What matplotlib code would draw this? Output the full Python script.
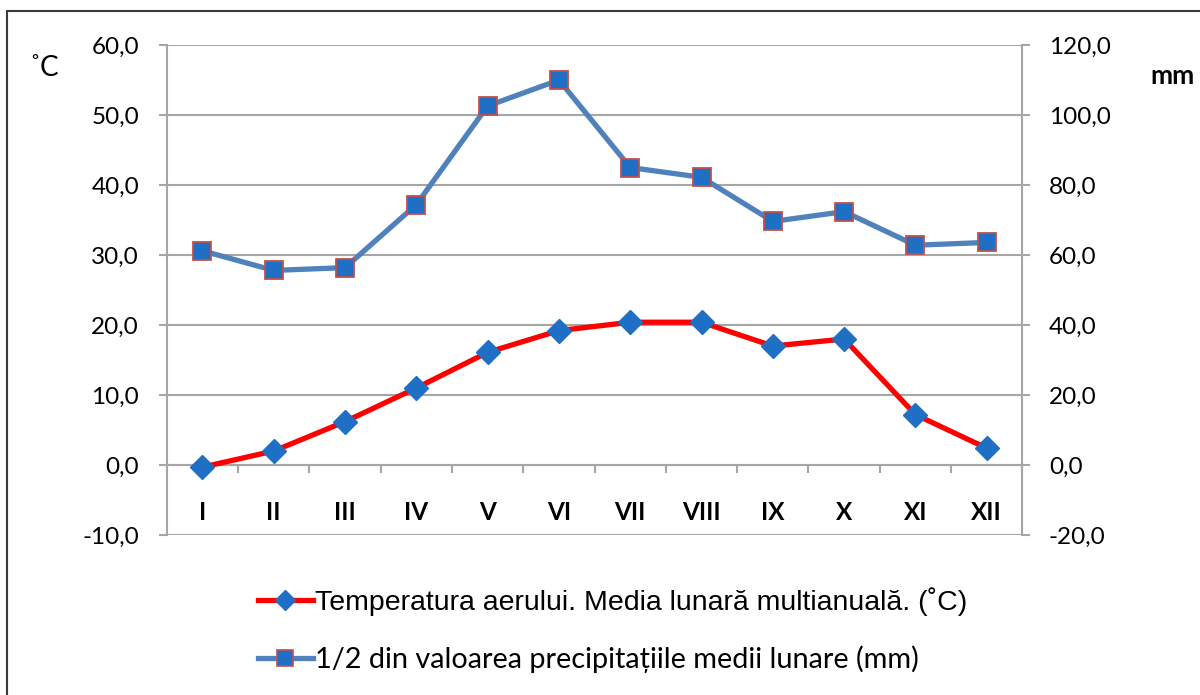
import matplotlib.pyplot as plt
import numpy as np
from matplotlib.patches import Rectangle
from matplotlib.lines import Line2D

# data
months = ['I', 'II', 'III', 'IV', 'V', 'VI', 'VII', 'VIII', 'IX', 'X', 'XI', 'XII']
temp = [-0.3, 2.0, 6.2, 11.0, 16.1, 19.2, 20.4, 20.4, 17.0, 18.0, 7.2, 2.4]
prec_half = [30.6, 27.8, 28.2, 37.2, 51.3, 55.0, 42.5, 41.1, 34.8, 36.2, 31.4, 31.8]
left_ticks = [-10, 0, 10, 20, 30, 40, 50, 60]
right_ticks = [-20, 0, 20, 40, 60, 80, 100, 120]

lbl_temp = 'Temperatura aerului. Media lunară multianuală. (˚C)'
lbl_prec = '1/2 din valoarea precipitațiile medii lunare (mm)'

grid_col = '#a6a6a6'
red = '#ff0000'
blue_line = '#4f81bd'
blue_mark = '#1f6fc4'
edge_red = '#c0504d'

fig = plt.figure(figsize=(12, 6.95), dpi=100)
ax = fig.add_axes([0.139, 0.2302, 0.713, 0.705])

# outer chart frame (cut off at right/bottom in the reference)
fig.patches.append(Rectangle((7/1200, -0.05), 1.1, 1 - 11/695 + 0.05,
                             transform=fig.transFigure, fill=False,
                             edgecolor='#3a3a3a', linewidth=1.5))

x = np.arange(len(months))
ax.plot(x, prec_half, color=blue_line, lw=3.8, marker='s', ms=13,
        mfc=blue_mark, mec=edge_red, mew=1.3, zorder=3)
ax.plot(x, temp, color=red, lw=3.8, marker='D', ms=12,
        mfc=blue_mark, mec=blue_mark, zorder=4)

ax.set_xlim(-0.5, len(months) - 0.5)
ax.set_ylim(-10, 60)
ax.set_yticks(left_ticks)
ax.set_yticklabels([f'{v:.1f}'.replace('.', ',') for v in left_ticks],
                   fontsize=17.5, fontfamily='Lato')
ax.yaxis.grid(True, color=grid_col, lw=1.5)
ax.set_axisbelow(True)

for s in ['top', 'right']:
    ax.spines[s].set_visible(False)
ax.spines['left'].set_color(grid_col)
ax.spines['left'].set_linewidth(1.5)
ax.spines['bottom'].set_position(('data', 0))
ax.spines['bottom'].set_color(grid_col)
ax.spines['bottom'].set_linewidth(1.5)

ax.set_xticks(x)
ax.set_xticklabels(months, fontsize=17.5, fontweight='bold', fontfamily='Lato')
ax.tick_params(axis='x', which='major', length=0, pad=26)
ax.set_xticks(np.arange(len(months) + 1) - 0.5, minor=True)
ax.tick_params(axis='x', which='minor', length=6, width=1.5, color=grid_col, direction='out')
ax.tick_params(axis='y', length=6, width=1.5, color=grid_col, pad=14)

ax2 = ax.twinx()
ax2.set_ylim(-20, 120)
ax2.set_yticks(right_ticks)
ax2.set_yticklabels([f'{v:.1f}'.replace('.', ',') for v in right_ticks],
                    fontsize=17.5, fontfamily='Lato')
for s in ['top', 'left', 'bottom']:
    ax2.spines[s].set_visible(False)
ax2.spines['right'].set_color(grid_col)
ax2.spines['right'].set_linewidth(1.5)
ax2.tick_params(axis='y', length=6, width=1.5, color=grid_col, pad=13)

fig.text(29/1200, 1 - 68/695, '˚C', fontsize=20, fontfamily='Lato', va='center')
fig.text(1150/1200, 1 - 76/695, 'mm', fontsize=19, fontfamily='Lato',
         fontweight='bold', va='center')

h1 = Line2D([], [], color=red, lw=3.8, marker='D', ms=10, mfc=blue_mark, mec=blue_mark)
h2 = Line2D([], [], color=blue_line, lw=3.8, marker='s', ms=12, mfc=blue_mark,
            mec=edge_red, mew=1.2)
leg = fig.legend([h1, h2], [lbl_temp, lbl_prec], loc='center left',
                 bbox_to_anchor=(232/1200, 1 - 630/695), frameon=False,
                 handlelength=1.95, handletextpad=0.08, labelspacing=1.03,
                 prop={'family': 'Liberation Sans', 'size': 20.5})
leg.get_texts()[1].set_fontfamily('Lato')
leg.get_texts()[1].set_fontsize(20.8)

fig.savefig('out.png', dpi=100)
